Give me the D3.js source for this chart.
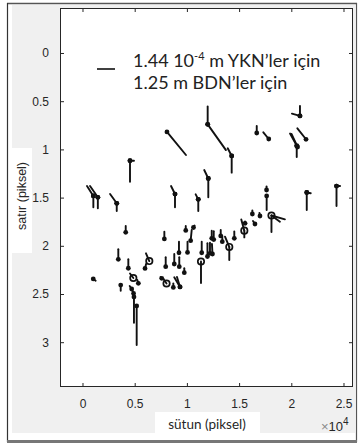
<!DOCTYPE html>
<html>
<head>
<meta charset="utf-8">
<script src="https://cdn.jsdelivr.net/npm/d3@7"></script>
<style>
  body { margin: 0; background: #fff; }
  svg { display: block; }
</style>
</head>
<body>
<div class="displayArea"></div>
<script>
// quiver vectors: base (x, y) in pixels, displacement (u, v) in pixels
var vecX = [8090, 11990, 11990, 20830, 20830, 16690, 17840, 21410, 20520, 20600, 20520, 14290, 14290, 4550, 4550,
    12050, 12050, 1040, 1040, 1470, 1470, 3280, 3280, 8860, 8860, 11090, 11090, 17630, 17640, 21480, 21480, 24330, 24330,
    18100, 18100, 18100, 17000, 16270, 16520, 15500, 15500, 15570, 14540, 14060, 14060, 13240, 13390, 12380, 12570,
    10630, 9890, 10360, 7840, 4140, 9240, 10060, 11420, 11970, 12210, 12450, 11350, 3430, 4390, 6400, 5990, 7970,
    8790, 9270, 9750, 1030, 4870, 5350, 3660, 4710, 4890, 4930, 5190, 7590, 8050, 8700, 9340, 9340]
var vecY = [8190, 7400, 7400, 6530, 6530, 8300, 8920, 8950, 9600, 9750, 9650, 10680, 10680, 11170, 11170,
    13020, 13020, 14830, 14830, 14970, 14970, 15590, 15590, 14630, 14630, 15180, 15180, 14210, 14830, 14470, 14470, 13800, 13800,
    16860, 16860, 16860, 16910, 16700, 17740, 18430, 18430, 17670, 19220, 20120, 20120, 18980, 19570, 19220, 19350,
    18100, 18410, 19470, 19290, 18600, 20720, 20690, 20720, 21110, 20780, 20850, 21630, 21400, 22330, 21580, 22350, 22170,
    21890, 22170, 22790, 23440, 23340, 23890, 24070, 24480, 24950, 25310, 26240, 23370, 23910, 24320, 24270, 24270]
var vecU = [1820, 0, 1750, 0, -770, 0, -520, -830, -640, -580, 0, -380, 0, 0, 380,
    -390, 0, -610, 0, -750, 0, -640, 0, -380, 0, -250, 0, 0, 0, 0, 380, 0, 340,
    1290, 810, 0, -50, 0, -190, -290, 0, 0, 0, 0, -410, 0, 0, 0, 0,
    100, 0, 100, 0, 0, 0, 0, 0, 0, 0, -50, 0, 0, 0, -320, 100, 0,
    0, 0, 0, 230, -320, -100, 0, -190, -100, 0, 0, -110, -290, 0, -550, -290]
var vecV = [2390, -1850, 2670, -1040, -240, -730, -690, -1140, -1240, -1350, 1140, -800, 1730, 2180, 0,
    -880, 1950, -1040, 1170, -1170, 1140, -960, 800, -830, 1380, -520, 1210, -360, 1450, 1820, 80, 2070, 0,
    390, 640, 1710, -310, -360, -310, -1160, 700, -200, -700, 1350, -1070, -620, -590, -790, -870,
    -200, -470, -1110, -760, -650, -1140, -1120, -1140, -1370, -1100, -1040, 2230, -1040, -930, -800, -470, -980,
    -1040, -980, -460, 180, -470, -340, 590, -310, -300, 2670, 4050, -130, -470, -410, -1010, -1040]

// bases drawn with an open circle instead of a dot
var ringX = [18100, 15500, 14060, 11350, 6400, 4870, 8050]
var ringY = [16860, 18430, 20120, 21630, 21580, 23340, 23910]

var xTicks = [0, 5000, 10000, 15000, 20000, 25000]
var yTicks = [0, 5000, 10000, 15000, 20000, 25000, 30000]

var legendLines = ["1.44 10", "1.25 m BDN\u2019ler için"]

var W = 361, H = 447
var plot = {left: 60, top: 8, right: 353, bottom: 387}

var xScale = d3.scaleLinear().domain([-2155, 25910]).range([plot.left, plot.right])
var yScale = d3.scaleLinear().domain([-4668, 34647]).range([plot.top, plot.bottom])

var svg = d3.select(".displayArea").append("svg")
    .attr("width", W).attr("height", H)

// figure frame + grey background
svg.append("rect").attr("x", 0).attr("y", 0).attr("width", W).attr("height", H).attr("fill", "#fff")
svg.append("rect").attr("x", 12).attr("y", 5).attr("width", 343).attr("height", 428).attr("fill", "#f0f0f0")
svg.append("line").attr("x1", 7).attr("x2", 357).attr("y1", 3.5).attr("y2", 3.5).attr("stroke", "#555").attr("stroke-width", 1.5)
svg.append("line").attr("x1", 7.5).attr("x2", 7.5).attr("y1", 3).attr("y2", 442).attr("stroke", "#333").attr("stroke-width", 1.2)
svg.append("line").attr("x1", 356.5).attr("x2", 356.5).attr("y1", 3).attr("y2", 442).attr("stroke", "#555").attr("stroke-width", 1.2)
svg.append("line").attr("x1", 7).attr("x2", 357).attr("y1", 441.5).attr("y2", 441.5).attr("stroke", "#777").attr("stroke-width", 3)

// axes box
svg.append("rect")
    .attr("x", plot.left).attr("y", plot.top)
    .attr("width", plot.right - plot.left).attr("height", plot.bottom - plot.top)
    .attr("fill", "#fff")

var fmt = function (d) { return String(d / 10000) }

var axisStyle = function (g) {
    g.select(".domain").remove()
    g.selectAll(".tick line").attr("stroke", "#262626")
    g.selectAll(".tick text").attr("fill", "#262626")
        .attr("font-family", "Liberation Sans, Arial, sans-serif").attr("font-size", 12)
}

svg.append("g").attr("transform", `translate(0,${plot.bottom})`)
    .call(d3.axisBottom(xScale).tickValues(xTicks).tickFormat(fmt).tickSizeInner(-4).tickSizeOuter(0).tickPadding(12))
    .call(axisStyle)
svg.append("g").attr("transform", `translate(0,${plot.top})`)
    .call(d3.axisTop(xScale).tickValues(xTicks).tickFormat("").tickSizeInner(-4).tickSizeOuter(0))
    .call(axisStyle)
svg.append("g").attr("transform", `translate(${plot.left},0)`)
    .call(d3.axisLeft(yScale).tickValues(yTicks).tickFormat(fmt).tickSizeInner(-4).tickSizeOuter(0).tickPadding(11))
    .call(axisStyle)
svg.append("g").attr("transform", `translate(${plot.right},0)`)
    .call(d3.axisRight(yScale).tickValues(yTicks).tickFormat("").tickSizeInner(-4).tickSizeOuter(0))
    .call(axisStyle)

svg.append("rect")
    .attr("x", plot.left + 0.5).attr("y", plot.top + 0.5)
    .attr("width", plot.right - plot.left - 1).attr("height", plot.bottom - plot.top - 1)
    .attr("fill", "none").attr("stroke", "#262626").attr("stroke-width", 1)

// x10^4 exponent
var expo = svg.append("text").attr("x", 321).attr("y", 431)
    .attr("font-family", "Liberation Sans, Arial, sans-serif").attr("font-size", 13).attr("fill", "#262626")
expo.append("tspan").text("\u00d7").attr("fill", "#888")
expo.append("tspan").text("10")
expo.append("tspan").text("4").attr("font-size", 10).attr("dy", -6)

// axis labels in white boxes
svg.append("rect").attr("x", 12).attr("y", 148).attr("width", 20).attr("height", 105).attr("fill", "#fff")
svg.append("text").attr("transform", "translate(26,196) rotate(-90)")
    .attr("text-anchor", "middle").attr("font-family", "Liberation Sans, Arial, sans-serif")
    .attr("font-size", 12.5).attr("fill", "#262626").text("satır (piksel)")

svg.append("rect").attr("x", 155).attr("y", 412).attr("width", 105).attr("height", 22).attr("fill", "#fff")
svg.append("text").attr("x", 207).attr("y", 429)
    .attr("text-anchor", "middle").attr("font-family", "Lato, Open Sans, sans-serif")
    .attr("font-size", 13.5).attr("fill", "#262626").text("sütun (piksel)")

// quiver lines
var vectors = d3.range(vecX.length).map(function (i) {
    return {x: vecX[i], y: vecY[i], u: vecU[i], v: vecV[i]}
})

svg.append("g").selectAll("line").data(vectors).enter().append("line")
    .attr("x1", function (d) { return xScale(d.x) })
    .attr("y1", function (d) { return yScale(d.y) })
    .attr("x2", function (d) { return xScale(d.x + d.u) })
    .attr("y2", function (d) { return yScale(d.y + d.v) })
    .attr("stroke", "#111").attr("stroke-width", 1.9).attr("stroke-linecap", "round")

// base markers
var isRing = function (d) {
    return ringX.some(function (rx, j) { return rx === d.x && ringY[j] === d.y })
}
svg.append("g").selectAll("circle").data(vectors.filter(function (d) { return !isRing(d) })).enter().append("circle")
    .attr("cx", function (d) { return xScale(d.x) })
    .attr("cy", function (d) { return yScale(d.y) })
    .attr("r", 2.4).attr("fill", "#111")

svg.append("g").selectAll("circle").data(ringX).enter().append("circle")
    .attr("cx", function (d) { return xScale(d) })
    .attr("cy", function (d, i) { return yScale(ringY[i]) })
    .attr("r", 3.2).attr("fill", "none").attr("stroke", "#111").attr("stroke-width", 1.7)

// legend: reference vector and text
svg.append("line").attr("x1", 97).attr("x2", 115).attr("y1", 69).attr("y2", 69)
    .attr("stroke", "#111").attr("stroke-width", 1.6)

var leg = svg.append("g").attr("font-family", "Lato, Open Sans, sans-serif").attr("font-size", 18).attr("fill", "#222")
var l1 = leg.append("text").attr("x", 133).attr("y", 67)
l1.append("tspan").text(legendLines[0])
l1.append("tspan").text("-4").attr("font-size", 11).attr("dy", -7)
l1.append("tspan").text(" m YKN\u2019ler için").attr("dy", 7)
leg.append("text").attr("x", 133).attr("y", 89).text(legendLines[1])
</script>
</body>
</html>
